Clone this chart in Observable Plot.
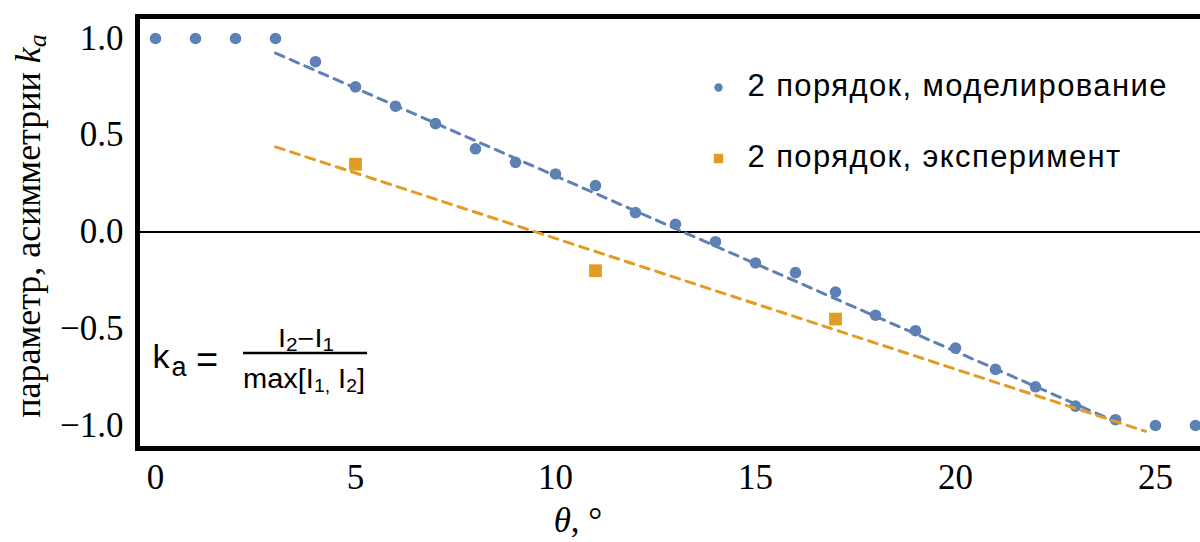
<!DOCTYPE html>
<html>
<head>
<meta charset="utf-8">
<script src="https://cdn.jsdelivr.net/npm/d3@7"></script>
<script src="https://cdn.jsdelivr.net/npm/@observablehq/plot@0.6"></script>
<style>
  html, body { margin: 0; padding: 0; background: #fff; overflow: hidden; }
  #chart svg { display: block; }
</style>
</head>
<body>
<div id="chart"></div>
<script>
// Asymmetry parameter k_a versus angle θ, second diffraction order

// Simulation points
const simTheta = [0, 1, 2, 3, 4, 5, 6, 7, 8, 9, 10, 11, 12, 13, 14, 15, 16, 17, 18, 19, 20, 21, 22, 23, 24, 25, 26];
const simKa = [1.0, 1.0, 1.0, 1.0, 0.88, 0.75, 0.65, 0.56, 0.43, 0.36, 0.30, 0.24, 0.10, 0.04, -0.05, -0.16, -0.21, -0.31, -0.43, -0.51, -0.60, -0.71, -0.80, -0.90, -0.97, -1.0, -1.0];

// Experimental points
const expTheta = [5, 11, 17];
const expKa = [0.35, -0.20, -0.45];

// Linear fits (end points of the dashed lines)
const simFitTheta = [3, 24];
const simFitKa = [0.925, -0.98];
const expFitTheta = [3, 24.75];
const expFitKa = [0.44, -1.03];

// Axis ticks
const xTicks = [0, 5, 10, 15, 20, 25];
const yTicks = [-1, -0.5, 0, 0.5, 1];

// Legend entries
const legendLabels = ["2 порядок, моделирование", "2 порядок, эксперимент"];

const blue = "#5E81B5";
const orange = "#E19C24";
const serif = "'Liberation Serif', 'DejaVu Serif', serif";
const sans = "'Liberation Sans', Arial, sans-serif";

const zip = (xs, ys) => xs.map((x, i) => ({x, y: ys[i]}));
const sim = zip(simTheta, simKa);
const exp = zip(expTheta, expKa);
const simFit = zip(simFitTheta, simFitKa);
const expFit = zip(expFitTheta, expFitKa);

const chart = Plot.plot({
  width: 1200,
  height: 542,
  marginLeft: 137,
  marginTop: 16,
  marginBottom: 94,
  marginRight: -30,
  style: {fontFamily: serif, fontSize: "35px", color: "black", background: "white", overflow: "visible"},
  x: {domain: [0, 25], range: [155, 1155], ticks: xTicks, tickSize: 0, tickPadding: 16, tickFormat: d3.format("d"), label: null},
  y: {domain: [-1, 1], range: [425, 38], ticks: yTicks, tickSize: 0, tickPadding: 14, tickFormat: d3.format(".1f"), label: null},
  marks: [
    Plot.ruleY([0], {stroke: "black", strokeWidth: 2}),
    Plot.dot(sim, {x: "x", y: "y", r: 5.8, fill: blue, stroke: null}),
    Plot.dot(exp, {x: "x", y: "y", r: 7.2, symbol: "square", fill: orange, stroke: null}),
    Plot.line(simFit, {x: "x", y: "y", stroke: blue, strokeWidth: 3, strokeDasharray: "9,7"}),
    Plot.line(expFit, {x: "x", y: "y", stroke: orange, strokeWidth: 3, strokeDasharray: "9,7"}),
    Plot.frame({stroke: "black", strokeWidth: 5}),
    // legend
    Plot.dot([legendLabels[0]], {frameAnchor: "top-left", dx: 581, dy: 71, r: 4.2, fill: blue, stroke: null}),
    Plot.dot([legendLabels[1]], {frameAnchor: "top-left", dx: 581, dy: 142, r: 5.3, symbol: "square", fill: orange, stroke: null}),
    Plot.text([legendLabels[0]], {text: d => d, frameAnchor: "top-left", dx: 610, dy: 70, textAnchor: "start", lineAnchor: "middle", fontSize: 31, fontFamily: sans, fill: "black"}),
    Plot.text([legendLabels[1]], {text: d => d, frameAnchor: "top-left", dx: 610, dy: 141, textAnchor: "start", lineAnchor: "middle", fontSize: 31, fontFamily: sans, fill: "black"})
  ]
});

document.getElementById("chart").appendChild(chart);

const svg = d3.select(chart);
svg.selectAll("g[aria-label='text'] text").style("letter-spacing", "1.4px");
// serif tick labels, like the axis titles
svg.selectAll("g[aria-label*='tick label']")
  .style("font-family", serif).style("font-size", "35px").style("font-variant", "normal");
svg.selectAll("g[aria-label*='tick label'] text")
  .style("font-family", serif).style("font-variant", "normal");

// y-axis title: параметр, асимметрии k_a
const yTitle = svg.append("text")
  .attr("transform", "translate(40,226) rotate(-90)")
  .attr("text-anchor", "middle")
  .attr("font-family", serif)
  .attr("font-size", 36)
  .attr("fill", "black");
yTitle.append("tspan").text("параметр, асимметрии ");
yTitle.append("tspan").attr("font-style", "italic").text("k");
yTitle.append("tspan").attr("font-style", "italic").attr("font-size", 26).attr("dy", 6).text("a");

// x-axis title: θ, °
const xTitle = svg.append("text")
  .attr("x", 578).attr("y", 532)
  .attr("text-anchor", "middle")
  .attr("font-family", serif)
  .attr("font-size", 35)
  .attr("fill", "black");
xTitle.append("tspan").attr("font-style", "italic").text("θ");
xTitle.append("tspan").text(", °");

// definition of k_a
const f = svg.append("g")
  .attr("font-family", sans)
  .attr("fill", "black");
f.append("text").attr("x", 161).attr("y", 368).attr("font-size", 34).text("k");
f.append("text").attr("x", 179).attr("y", 376).attr("font-size", 27).text("a");
f.append("text").attr("x", 207).attr("y", 373).attr("font-size", 38).text("=");
f.append("line").attr("x1", 243).attr("x2", 367).attr("y1", 353).attr("y2", 353)
  .attr("stroke", "black").attr("stroke-width", 2.5);

const num = f.append("text").attr("x", 306).attr("y", 347).attr("font-size", 25)
  .attr("text-anchor", "middle").attr("textLength", 56).attr("lengthAdjust", "spacingAndGlyphs");
num.append("tspan").text("I");
num.append("tspan").attr("font-size", 18).attr("dy", 4).text("2");
num.append("tspan").attr("dy", -4).text("−I");
num.append("tspan").attr("font-size", 18).attr("dy", 4).text("1");

const den = f.append("text").attr("x", 304).attr("y", 388).attr("font-size", 27)
  .attr("text-anchor", "middle").attr("textLength", 122).attr("lengthAdjust", "spacingAndGlyphs");
den.append("tspan").text("max[I");
den.append("tspan").attr("font-size", 18).attr("dy", 4).text("1,");
den.append("tspan").attr("dy", -4).text(" I");
den.append("tspan").attr("font-size", 18).attr("dy", 4).text("2");
den.append("tspan").attr("dy", -4).text("]");
</script>
</body>
</html>
